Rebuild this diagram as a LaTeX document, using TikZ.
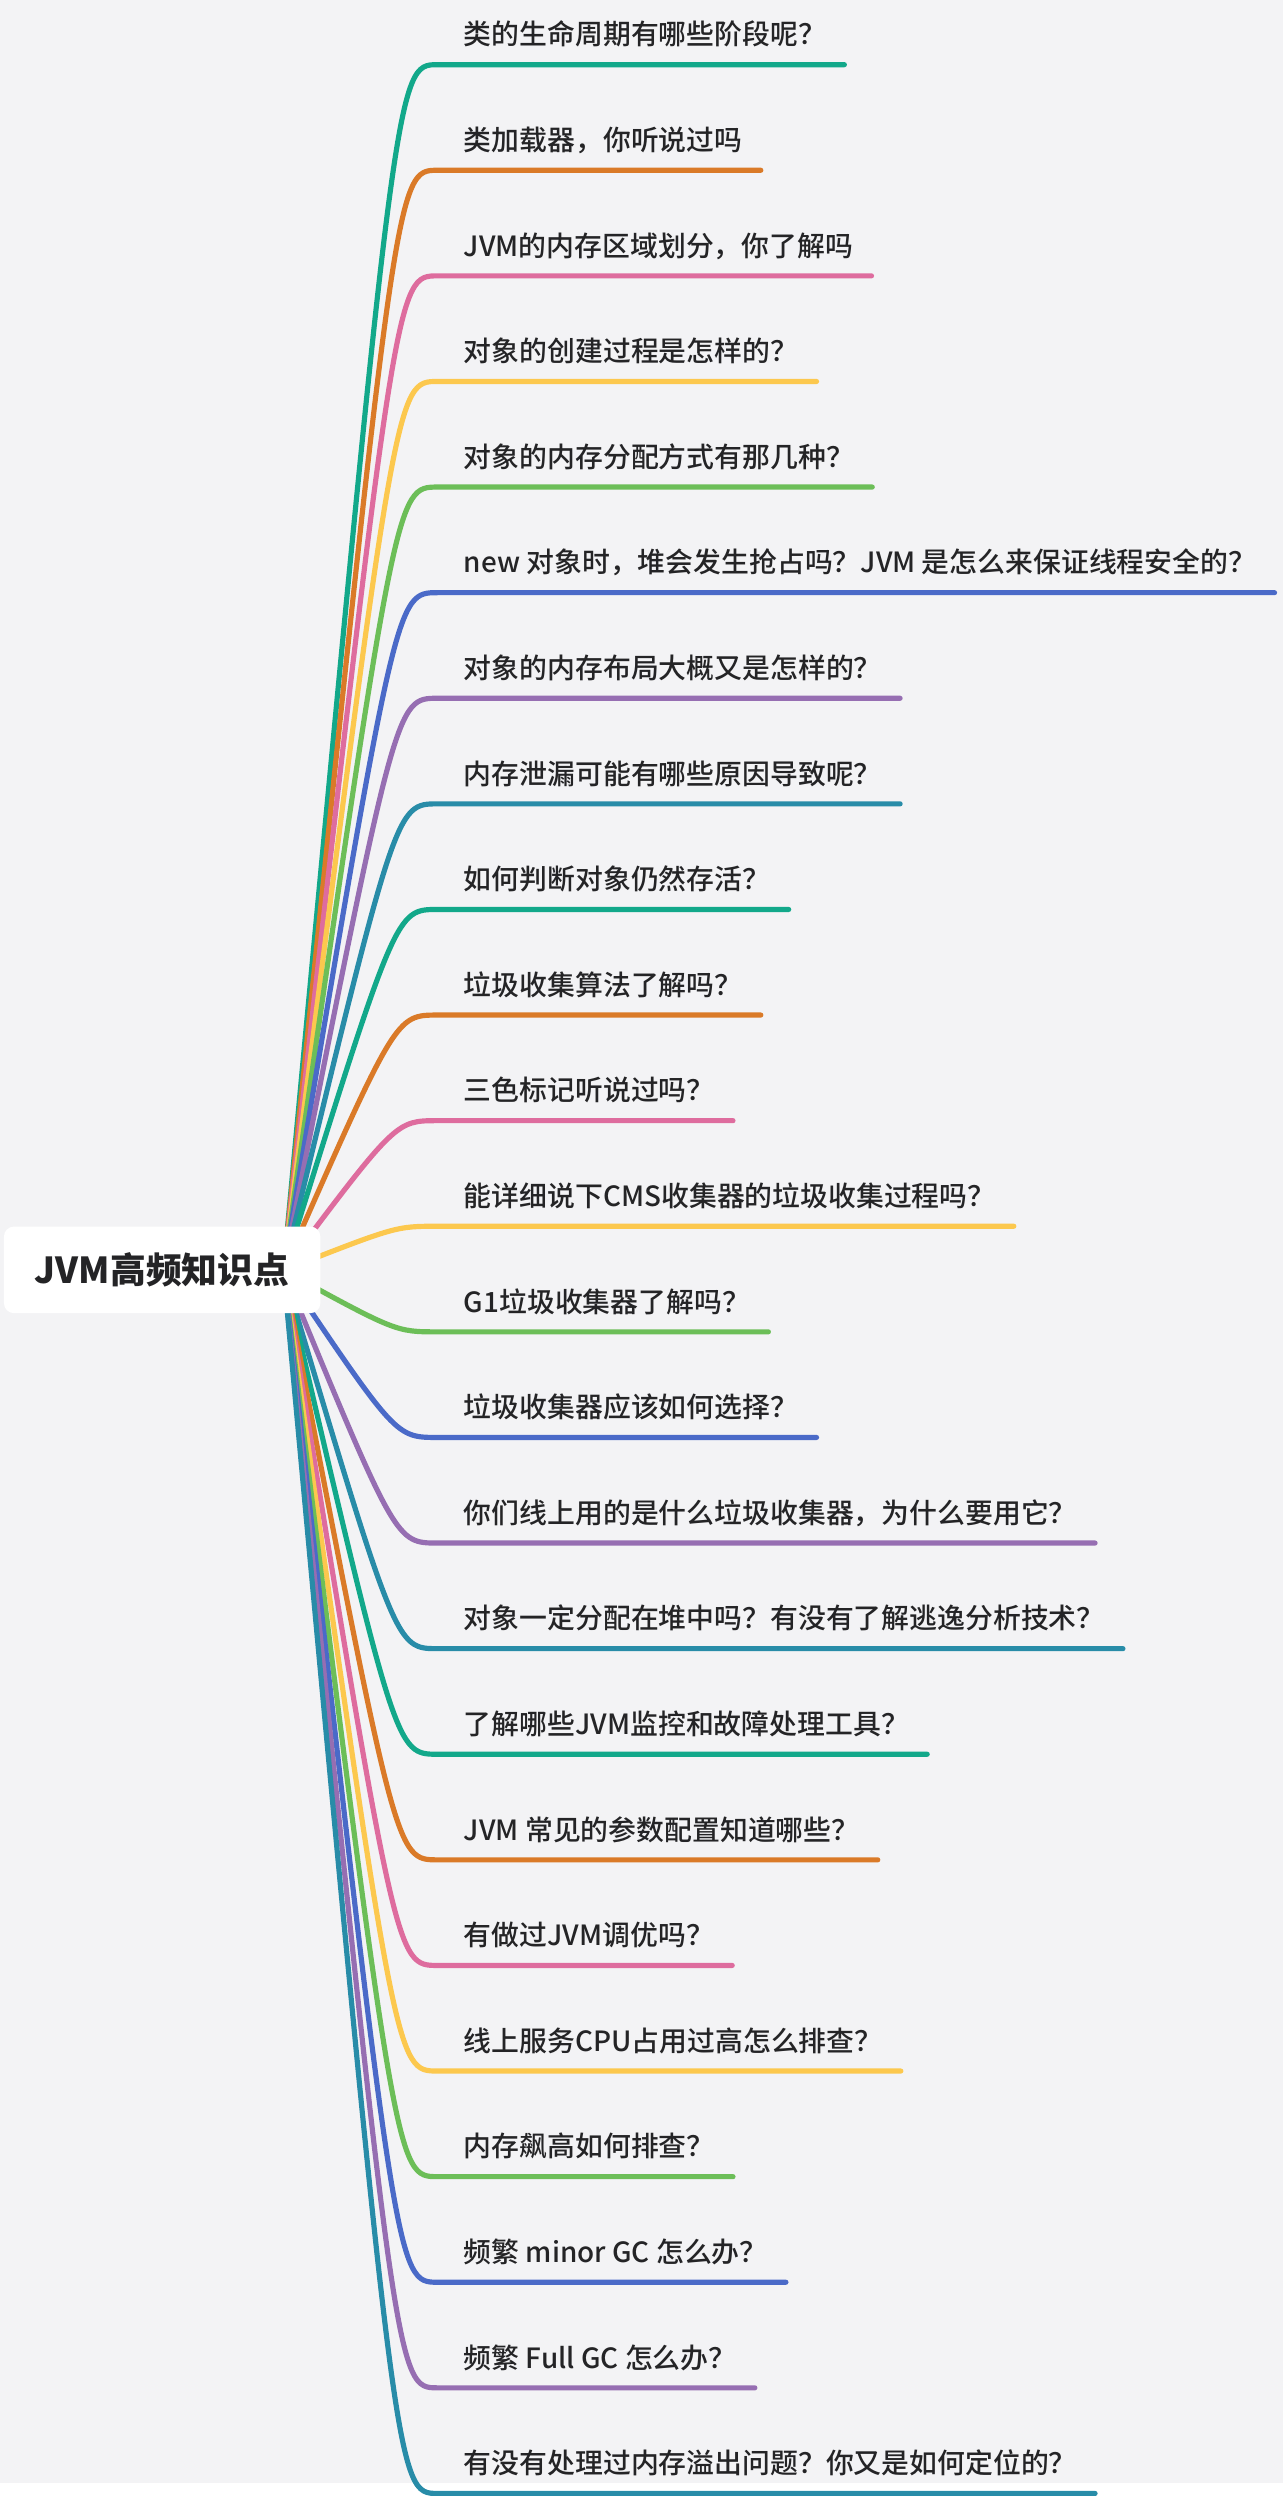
\documentclass[tikz,border=0pt]{standalone}
\usepackage{fontspec}
\setmainfont{Noto Sans CJK SC}
\newfontfamily\topicfont{Noto Sans CJK SC Medium}
\usepackage{xcolor}
\usepackage{tikz}
\usetikzlibrary{positioning}
\definecolor{bgc}{RGB}{243,243,245}
\definecolor{ink}{RGB}{36,36,38}
\definecolor{cteal}{RGB}{18,168,138}
\definecolor{corange}{RGB}{218,122,40}
\definecolor{cpink}{RGB}{222,108,158}
\definecolor{cyellow}{RGB}{252,200,78}
\definecolor{cgreen}{RGB}{108,190,88}
\definecolor{cblue}{RGB}{74,106,200}
\definecolor{cpurple}{RGB}{150,110,178}
\definecolor{ccyan}{RGB}{40,140,168}
\pgfdeclarelayer{back}
\pgfdeclarelayer{links}
\pgfsetlayers{back,links,main}
\tikzstyle{root} = [rectangle, fill=white, rounded corners=5pt,
    minimum width=159pt, minimum height=43.5pt, text=ink,
    font=\fontsize{18pt}{20pt}\selectfont\bfseries]
\tikzstyle{topic} = [anchor=south west, inner sep=0pt, text height=10pt,
    text depth=9.75pt, text=ink, font=\topicfont\fontsize{14pt}{16pt}\selectfont]
\tikzstyle{branch} = [line width=2.6pt, line cap=round]

\begin{document}
\begin{tikzpicture}[x=0.5pt, y=-0.5pt, node distance=32.925pt]
        % Background
        \begin{pgfonlayer}{back}
        \fill [bgc] (0,0) rectangle (1290,2496);
        \end{pgfonlayer}

        % Central topic
        \node [root] (root) at (163,1276.5) {JVM高频知识点};
        \coordinate (hub) at (285,1277);
        \coordinate (ctl) at (398,0);

        % Topics
        \node [topic] (t1) at (466,65) {类的生命周期有哪些阶段呢？};
        \node [topic, below=of t1.south west, anchor=north west] (t2) {类加载器，你听说过吗};
        \node [topic, below=of t2.south west, anchor=north west] (t3) {JVM的内存区域划分，你了解吗};
        \node [topic, below=of t3.south west, anchor=north west] (t4) {对象的创建过程是怎样的？};
        \node [topic, below=of t4.south west, anchor=north west] (t5) {对象的内存分配方式有那几种？};
        \node [topic, below=of t5.south west, anchor=north west] (t6) {new 对象时，堆会发生抢占吗？JVM 是怎么来保证线程安全的？};
        \node [topic, below=of t6.south west, anchor=north west] (t7) {对象的内存布局大概又是怎样的？};
        \node [topic, below=of t7.south west, anchor=north west] (t8) {内存泄漏可能有哪些原因导致呢？};
        \node [topic, below=of t8.south west, anchor=north west] (t9) {如何判断对象仍然存活？};
        \node [topic, below=of t9.south west, anchor=north west] (t10) {垃圾收集算法了解吗？};
        \node [topic, below=of t10.south west, anchor=north west] (t11) {三色标记听说过吗？};
        \node [topic, below=of t11.south west, anchor=north west] (t12) {能详细说下CMS收集器的垃圾收集过程吗？};
        \node [topic, below=of t12.south west, anchor=north west] (t13) {G1垃圾收集器了解吗？};
        \node [topic, below=of t13.south west, anchor=north west] (t14) {垃圾收集器应该如何选择？};
        \node [topic, below=of t14.south west, anchor=north west] (t15) {你们线上用的是什么垃圾收集器，为什么要用它？};
        \node [topic, below=of t15.south west, anchor=north west] (t16) {对象一定分配在堆中吗？有没有了解逃逸分析技术？};
        \node [topic, below=of t16.south west, anchor=north west] (t17) {了解哪些JVM监控和故障处理工具？};
        \node [topic, below=of t17.south west, anchor=north west] (t18) {JVM 常见的参数配置知道哪些？};
        \node [topic, below=of t18.south west, anchor=north west] (t19) {有做过JVM调优吗？};
        \node [topic, below=of t19.south west, anchor=north west] (t20) {线上服务CPU占用过高怎么排查？};
        \node [topic, below=of t20.south west, anchor=north west] (t21) {内存飙高如何排查？};
        \node [topic, below=of t21.south west, anchor=north west] (t22) {频繁 minor GC 怎么办？};
        \node [topic, below=of t22.south west, anchor=north west] (t23) {频繁 Full GC 怎么办？};
        \node [topic, below=of t23.south west, anchor=north west] (t24) {有没有处理过内存溢出问题？你又是如何定位的？};

        % Connections
        \begin{pgfonlayer}{links}
        \path [branch, draw=cteal] (hub) .. controls (ctl |- t1.south) .. ([xshift=-13pt]t1.south west) -- ([xshift=9pt]t1.south east);
        \path [branch, draw=corange] (hub) .. controls (ctl |- t2.south) .. ([xshift=-13pt]t2.south west) -- ([xshift=9pt]t2.south east);
        \path [branch, draw=cpink] (hub) .. controls (ctl |- t3.south) .. ([xshift=-13pt]t3.south west) -- ([xshift=9pt]t3.south east);
        \path [branch, draw=cyellow] (hub) .. controls (ctl |- t4.south) .. ([xshift=-13pt]t4.south west) -- ([xshift=9pt]t4.south east);
        \path [branch, draw=cgreen] (hub) .. controls (ctl |- t5.south) .. ([xshift=-13pt]t5.south west) -- ([xshift=9pt]t5.south east);
        \path [branch, draw=cblue] (hub) .. controls (ctl |- t6.south) .. ([xshift=-13pt]t6.south west) -- ([xshift=9pt]t6.south east);
        \path [branch, draw=cpurple] (hub) .. controls (ctl |- t7.south) .. ([xshift=-13pt]t7.south west) -- ([xshift=9pt]t7.south east);
        \path [branch, draw=ccyan] (hub) .. controls (ctl |- t8.south) .. ([xshift=-13pt]t8.south west) -- ([xshift=9pt]t8.south east);
        \path [branch, draw=cteal] (hub) .. controls (ctl |- t9.south) .. ([xshift=-13pt]t9.south west) -- ([xshift=9pt]t9.south east);
        \path [branch, draw=corange] (hub) .. controls (ctl |- t10.south) .. ([xshift=-13pt]t10.south west) -- ([xshift=9pt]t10.south east);
        \path [branch, draw=cpink] (hub) .. controls (ctl |- t11.south) .. ([xshift=-13pt]t11.south west) -- ([xshift=9pt]t11.south east);
        \path [branch, draw=cyellow] (hub) .. controls (ctl |- t12.south) .. ([xshift=-13pt]t12.south west) -- ([xshift=9pt]t12.south east);
        \path [branch, draw=cgreen] (hub) .. controls (ctl |- t13.south) .. ([xshift=-13pt]t13.south west) -- ([xshift=9pt]t13.south east);
        \path [branch, draw=cblue] (hub) .. controls (ctl |- t14.south) .. ([xshift=-13pt]t14.south west) -- ([xshift=9pt]t14.south east);
        \path [branch, draw=cpurple] (hub) .. controls (ctl |- t15.south) .. ([xshift=-13pt]t15.south west) -- ([xshift=9pt]t15.south east);
        \path [branch, draw=ccyan] (hub) .. controls (ctl |- t16.south) .. ([xshift=-13pt]t16.south west) -- ([xshift=9pt]t16.south east);
        \path [branch, draw=cteal] (hub) .. controls (ctl |- t17.south) .. ([xshift=-13pt]t17.south west) -- ([xshift=9pt]t17.south east);
        \path [branch, draw=corange] (hub) .. controls (ctl |- t18.south) .. ([xshift=-13pt]t18.south west) -- ([xshift=9pt]t18.south east);
        \path [branch, draw=cpink] (hub) .. controls (ctl |- t19.south) .. ([xshift=-13pt]t19.south west) -- ([xshift=9pt]t19.south east);
        \path [branch, draw=cyellow] (hub) .. controls (ctl |- t20.south) .. ([xshift=-13pt]t20.south west) -- ([xshift=9pt]t20.south east);
        \path [branch, draw=cgreen] (hub) .. controls (ctl |- t21.south) .. ([xshift=-13pt]t21.south west) -- ([xshift=9pt]t21.south east);
        \path [branch, draw=cblue] (hub) .. controls (ctl |- t22.south) .. ([xshift=-13pt]t22.south west) -- ([xshift=9pt]t22.south east);
        \path [branch, draw=cpurple] (hub) .. controls (ctl |- t23.south) .. ([xshift=-13pt]t23.south west) -- ([xshift=9pt]t23.south east);
        \path [branch, draw=ccyan] (hub) .. controls (ctl |- t24.south) .. ([xshift=-13pt]t24.south west) -- ([xshift=9pt]t24.south east);
        \end{pgfonlayer}

        % Frame
        \useasboundingbox (0,0) rectangle (1290,2496);
    \end{tikzpicture}
\end{document}
